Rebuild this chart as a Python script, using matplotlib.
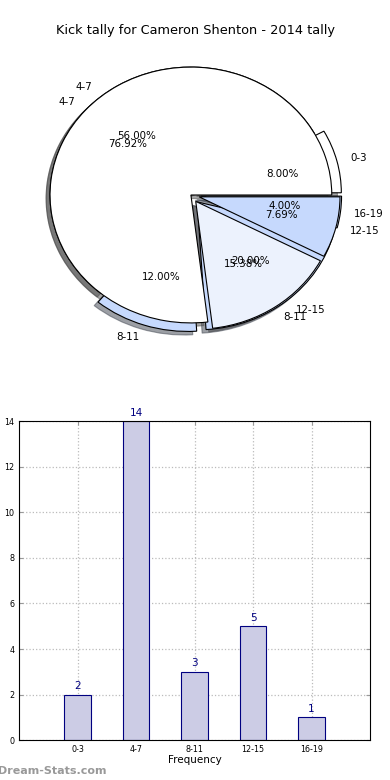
import matplotlib
matplotlib.use("Agg")
import matplotlib.pyplot as plt

# kick tally data
bins = ["0-3", "4-7", "8-11", "12-15", "16-19"]
counts = [2, 14, 3, 5, 1]

# second tally laid over the first pie
bins2 = ["4-7", "8-11", "12-15"]
counts2 = [10, 2, 1]

title = "Kick tally for Cameron Shenton - 2014 tally"

navy = "#000080"
barfill = "#ccccE5"
lightblue = "#c6d9fd"
paleblue = "#ecf2fd"

fig = plt.figure(figsize=(3.9, 7.8), dpi=100)

# ---- pie part ----
ax1 = fig.add_axes([0.038, 0.545, 0.903, 0.41])
ax1.pie(counts, labels=bins, autopct="%1.2f%%", explode=[0.07, 0, 0.07, 0.07, 0.07],
        shadow=True, colors=["white", "white", lightblue, lightblue, lightblue],
        wedgeprops=dict(edgecolor="black", linewidth=0.8),
        textprops=dict(fontsize=7.4))
ax1.pie(counts2, labels=bins2, autopct="%1.2f%%", explode=[0, 0.06, 0.06],
        shadow=True, colors=["white", paleblue, lightblue],
        wedgeprops=dict(edgecolor="black", linewidth=0.8),
        textprops=dict(fontsize=7.4))
ax1.set_aspect("auto")
ax1.set_xlim(-1.25, 1.25)
ax1.set_ylim(-1.25, 1.25)
fig.text(0.5, 0.961, title, ha="center", va="center", fontsize=9.3)

# ---- bar part ----
ax2 = fig.add_axes([0.049, 0.051, 0.9, 0.409])
xs = list(range(len(bins)))
ax2.bar(xs, counts, width=0.45, color=barfill, edgecolor=navy, linewidth=0.8, zorder=2)
for x, c in zip(xs, counts):
    ax2.text(x, c + 0.15, str(c), ha="center", va="bottom", color=navy,
             fontsize=7.5, clip_on=False)
ax2.set_xlim(-1, 5)
ax2.set_ylim(0, 14)
ax2.set_xticks(xs)
ax2.set_xticklabels(bins)
ax2.set_yticks(range(0, 15, 2))
ax2.tick_params(labelsize=5.8, direction="in", top=True, right=True, length=3, color="#999999")
ax2.grid(True, linestyle=":", color="#bbbbbb", linewidth=0.9, zorder=1)
ax2.set_axisbelow(True)
ax2.set_xlabel("Frequency", fontsize=7.5, labelpad=1)
ax2.set_ylabel("Goals Kicked", fontsize=7.5, labelpad=4)
ax2.yaxis.set_label_coords(-0.045, 0.5)
for s in ax2.spines.values():
    s.set_linewidth(0.8)

fig.text(-0.005, 0.012, "Dream-Stats.com", color="#999999", fontsize=8,
         fontweight="bold", ha="left", va="center")

fig.savefig("out.png", dpi=100)
